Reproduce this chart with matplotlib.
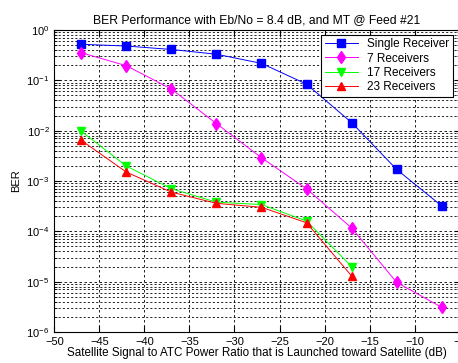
import matplotlib
matplotlib.use("Agg")
import matplotlib.pyplot as plt
from matplotlib.ticker import LogLocator, NullFormatter, FixedLocator

plt.rcParams['font.family'] = ['Liberation Sans', 'DejaVu Sans']

x = [-47, -42, -37, -32, -27, -22, -17, -12, -7]
x_short = [-47, -42, -37, -32, -27, -22, -17]
single = [0.52, 0.48, 0.41, 0.33, 0.217, 0.084, 0.0145, 0.0017, 3.2e-4]
rx7 = [0.353, 0.195, 0.067, 0.0138, 0.0029, 7.0e-4, 1.17e-4, 9.7e-6, 3.1e-6]
rx17 = [0.0097, 0.00198, 7.0e-4, 3.8e-4, 3.4e-4, 1.6e-4, 2.0e-5]
rx23 = [0.0064, 0.0015, 6.0e-4, 3.6e-4, 3.0e-4, 1.48e-4, 1.3e-5]
labels = ["Single Receiver", "7 Receivers", "17 Receivers", "23 Receivers"]
xticks = [-50, -45, -40, -35, -30, -25, -20, -15, -10, -5]

fig = plt.figure(figsize=(4.58, 3.63), dpi=100)
ax = fig.add_axes([0.1186, 0.0854, 0.885, 0.832])

ax.semilogy(x, single, color='#0000ff', marker='s', ms=6, lw=0.7, label=labels[0])
ax.semilogy(x, rx7, color='#ff00ff', marker='d', ms=6, lw=0.7, label=labels[1])
ax.semilogy(x_short, rx17, color='#00ff00', marker='v', ms=6, lw=0.7, label=labels[2])
ax.semilogy(x_short, rx23, color='#ff0000', marker='^', ms=6, lw=0.7, label=labels[3])

ax.set_xlim(-50, -5)
ax.set_ylim(1e-6, 1)
ax.xaxis.set_major_locator(FixedLocator(xticks))
ax.yaxis.set_major_locator(LogLocator(base=10, numticks=10))
ax.yaxis.set_minor_locator(LogLocator(base=10, subs=range(2, 10), numticks=20))
ax.yaxis.set_minor_formatter(NullFormatter())

ax.grid(True, which='major', axis='both', color='black', linestyle=(0, (3, 3)), lw=0.6)
ax.grid(True, which='minor', axis='y', color='black', linestyle=(0, (2.5, 2.5)), lw=0.6)
ax.tick_params(which='both', direction='in', top=True, right=True, labelsize=8)
ax.tick_params(which='major', length=4)
ax.tick_params(which='minor', length=2)
for s in ax.spines.values():
    s.set_linewidth(0.8)

ax.set_title("BER Performance with Eb/No = 8.4 dB, and MT @ Feed #21", fontsize=8.7, pad=5)
ax.set_xlabel("Satellite Signal to ATC Power Ratio that is Launched toward Satellite (dB)", fontsize=8.35, labelpad=0)
ax.set_ylabel("BER", fontsize=8, labelpad=4)

leg = ax.legend(loc='upper right', fontsize=8.5, fancybox=False, framealpha=1,
                edgecolor='black', borderaxespad=0.4, handlelength=2.8,
                labelspacing=0.2, borderpad=0.3, bbox_to_anchor=(0.995, 1.0))
leg.get_frame().set_linewidth(0.8)

fig.savefig("out.png", dpi=100)
